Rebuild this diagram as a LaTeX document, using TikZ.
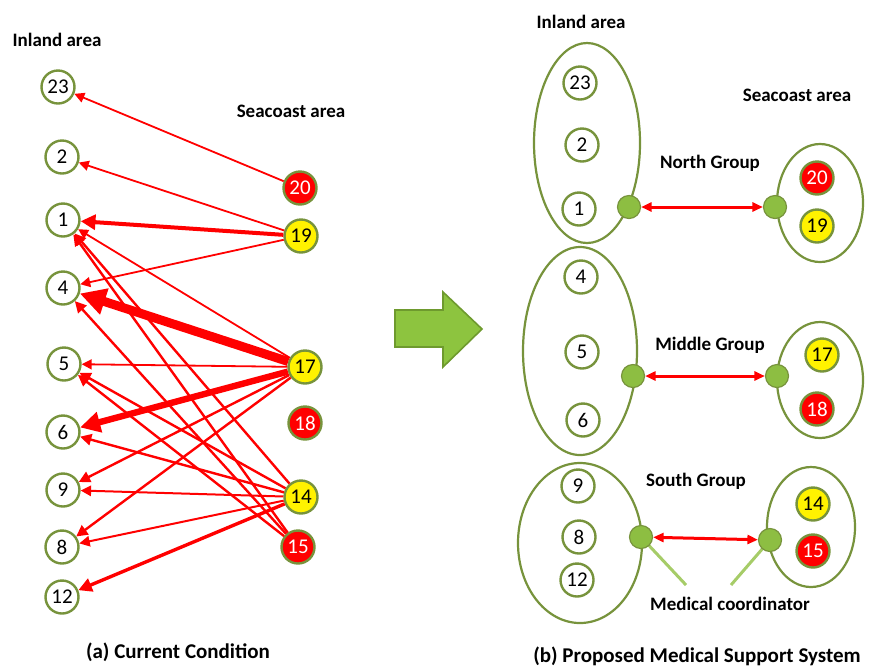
\documentclass[tikz,border=0pt]{standalone}
\usepackage{fontspec}
\setmainfont{Carlito}
\usetikzlibrary{arrows.meta}
\definecolor{borderolive}{HTML}{77933C}
\definecolor{dotgreen}{HTML}{8DBE42}
\definecolor{pointergreen}{HTML}{A6CC68}
\definecolor{arrowgreen}{HTML}{8DC43F}
\definecolor{arrowedge}{HTML}{6E9A2E}

\begin{document}
\begin{tikzpicture}[x=0.5pt,y=-0.5pt,
		site/.style={circle,draw=borderolive,line width=1.2pt,fill=white,minimum size=16.5pt,inner sep=0pt,font=\fontsize{10.5}{12}\selectfont},
		redsite/.style={site,fill=red,text=white},
		yellowsite/.style={site,fill=yellow},
		link/.style={red,-{Triangle[length=3pt 2.2,width=3pt 2.2]}},
		duo/.style={red,line width=1.5pt,{Triangle[length=3pt 1.5,width=3pt 1]}-{Triangle[length=3pt 1.5,width=3pt 1]}},
		coordinator/.style={circle,draw=borderolive,fill=dotgreen,line width=0.6pt,minimum size=11.5pt,inner sep=0pt},
		group/.style={draw=borderolive,line width=1.1pt},
		pointer/.style={pointergreen,line width=1.5pt},
		area/.style={font=\bfseries\fontsize{9.5}{11}\selectfont},
		caption/.style={font=\bfseries\fontsize{10.5}{12}\selectfont}]
	\useasboundingbox (0,0) rectangle (876,666);
	% (a) current condition
	\node[area] (aInland) at (57,40) {Inland area};
	\node[area] (aCoast) at (291,111) {Seacoast area};
	\foreach \n/\x/\y in {23/58/87,2/62/157,1/63/220,4/63/288,5/64/364,6/63/432,9/63/490,8/62/547,12/62/597}
		\node[site] (a\n) at (\x,\y) {\n};
	\node[redsite] (a20) at (300,188) {20};
	\node[yellowsite] (a19) at (301,236) {19};
	\node[yellowsite] (a17) at (305,367) {17};
	\node[redsite] (a18) at (305,423) {18};
	\node[yellowsite] (a14) at (301,497) {14};
	\node[redsite] (a15) at (298,547) {15};
	\foreach \s/\t/\w in {20/23/0.9,19/2/0.9,19/1/2,19/4/0.9,17/4/4.5,17/1/0.9,17/5/0.9,17/6/3.2,17/9/1.2,17/8/1.2,
			15/1/1.2,14/1/1.2,15/4/1.2,14/5/1.2,15/5/1.2,14/6/1.2,14/9/1,14/8/1,14/12/1.7}
		\draw[link,line width=\w pt] (a\s) -- (a\t);
	\node[caption] (aCaption) at (178,652) {(a) Current Condition};
	% big arrow
	\filldraw[fill=arrowgreen,draw=arrowedge,line width=0.8pt] (395,310) -- (443,310) -- (443,292) -- (482,329) -- (443,367) -- (443,347) -- (395,347) -- cycle;
	% (b) proposed system
	\node[area] (bInland) at (581,22) {Inland area};
	\node[area] (bCoast) at (797,95) {Seacoast area};
	\draw[group] (587,143) ellipse [x radius=53,y radius=100];
	\draw[group] (580,351) ellipse [x radius=57,y radius=104];
	\draw[group] (580,543) ellipse [x radius=62,y radius=80];
	\draw[group] (820,203) ellipse [x radius=43,y radius=59];
	\draw[group] (820,380) ellipse [x radius=43,y radius=58];
	\draw[group] (811,527) ellipse [x radius=44,y radius=60];
	\foreach \n/\x/\y in {23/580/83,2/582/145,1/579/209,4/581/277,5/582/352,6/583/420,9/578/486,8/579/537,12/577/580}
		\node[site] (b\n) at (\x,\y) {\n};
	\node[redsite] (b20) at (817,178) {20};
	\node[yellowsite] (b19) at (817,226) {19};
	\node[yellowsite] (b17) at (822,355) {17};
	\node[redsite] (b18) at (817,409) {18};
	\node[yellowsite] (b14) at (813,504) {14};
	\node[redsite] (b15) at (813,551) {15};
	\node[area] (bNorth) at (710,163) {North Group};
	\node[area] (bMiddle) at (710,345) {Middle Group};
	\node[area] (bSouth) at (696,481) {South Group};
	\node[area] (bMedical) at (730,604) {Medical coordinator};
	\coordinate (mcL) at (686,585);
	\coordinate (mcR) at (731,585);
	\draw[pointer] (641,537) -- (mcL);
	\draw[pointer] (770,540) -- (mcR);
	\node[coordinator] (bNi) at (629,207) {};
	\node[coordinator] (bNc) at (775,207) {};
	\node[coordinator] (bMi) at (633,376) {};
	\node[coordinator] (bMc) at (777,376) {};
	\node[coordinator] (bSi) at (641,537) {};
	\node[coordinator] (bSc) at (770,540) {};
	\draw[duo] (bNi) -- (bNc);
	\draw[duo] (bMi) -- (bMc);
	\draw[duo] (bSi) -- (bSc);
	\node[caption] (bCaption) at (697,656) {(b) Proposed Medical Support System};
\end{tikzpicture}
\end{document}
